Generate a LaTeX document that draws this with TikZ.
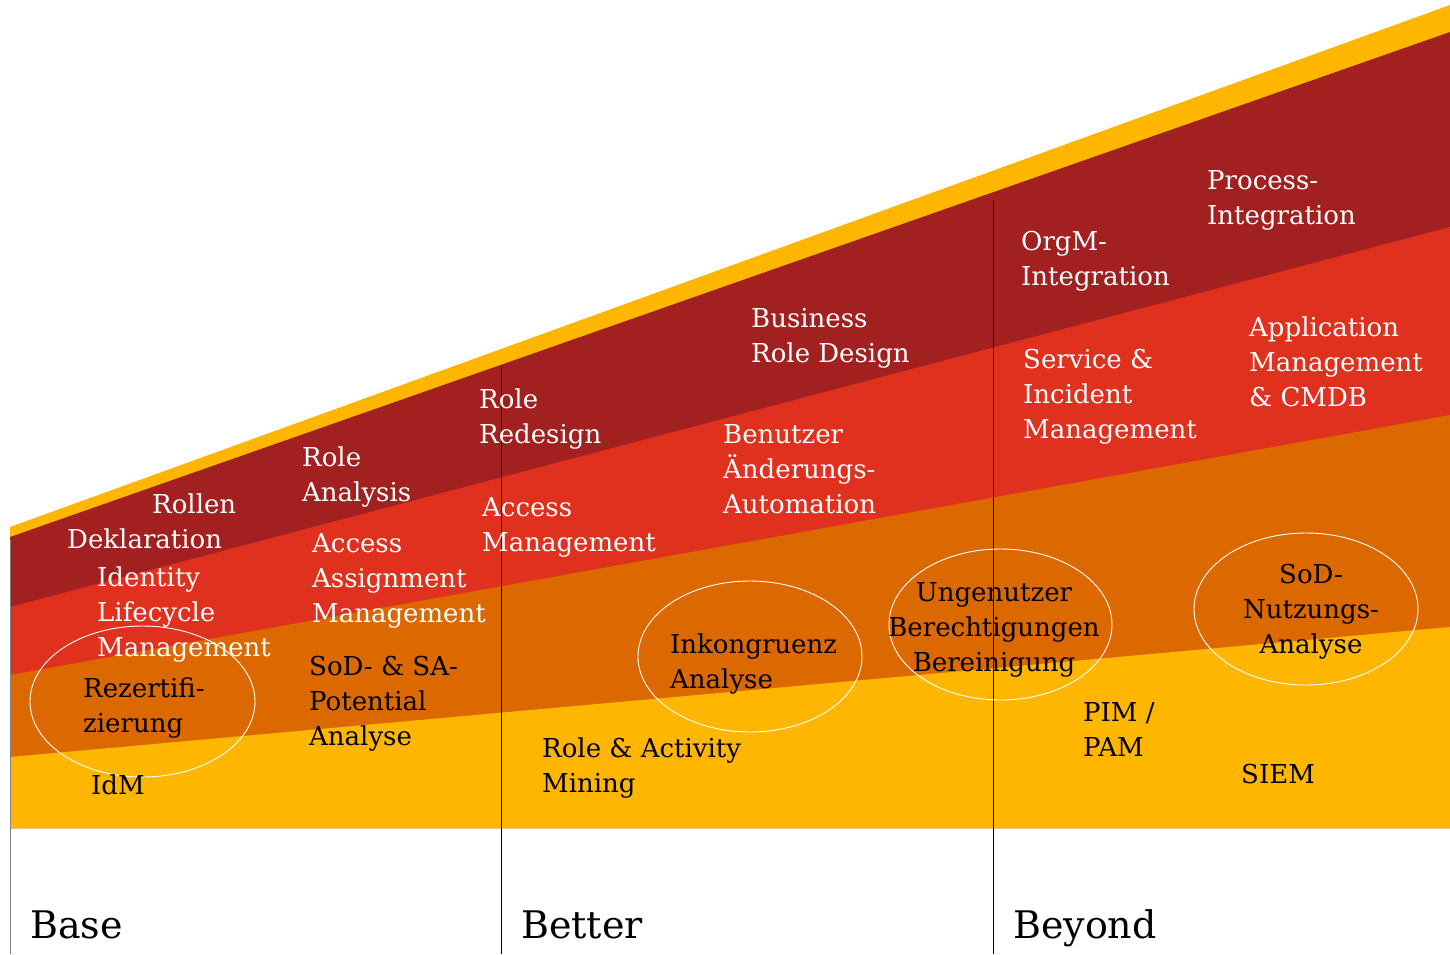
\documentclass[tikz,border=0pt]{standalone}
\usepackage{fontspec}
\setmainfont{DejaVu Serif}
\usepackage{tikz}

\definecolor{pwcYellow}{HTML}{FFB600}
\definecolor{pwcOrange}{HTML}{DC6900}
\definecolor{pwcRed}{HTML}{E0301E}
\definecolor{pwcDarkRed}{HTML}{A32020}

\tikzset{
    onred/.style={text=white, align=left, anchor=west, inner sep=0pt,
        font=\fontsize{26}{35}\selectfont},
    onyellow/.style={onred, text=black},
    phase/.style={anchor=base west, inner sep=0pt, font=\fontsize{38}{44}\selectfont},
    ring/.style={draw=white, line width=0.9pt},
    divider/.style={draw=black, line width=0.9pt}
}

\begin{document}
\begin{tikzpicture}[x=1pt, y=-1pt]
    \useasboundingbox (0,0) rectangle (1450,954);

    % bands, back to front
    \foreach \col/\lft/\rgt in {pwcYellow/527/5, pwcDarkRed/537/32, pwcRed/607/227,
                                pwcOrange/675/415, pwcYellow/757/627}
        \fill[\col] (10,\lft) -- (1450,\rgt) |- (11,828) -- cycle;

    \coordinate (baseTop) at (10,540);
    \coordinate (baseEnd) at (10,954);
    \coordinate (betterTop) at (501,366);
    \coordinate (betterEnd) at (501,954);
    \coordinate (beyondTop) at (993,200);
    \coordinate (beyondEnd) at (993,954);
    \draw[divider, draw=gray] (baseTop) -- (baseEnd);
    \draw[divider] (betterTop) -- (betterEnd);
    \draw[divider] (beyondTop) -- (beyondEnd);

    \draw[ring] (142.5,701.5) ellipse [x radius=112.5, y radius=75.5];
    \draw[ring] (750,656.5) ellipse [x radius=112, y radius=75.5];
    \draw[ring] (1000.5,624.5) ellipse [x radius=111.5, y radius=75.5];
    \draw[ring] (1306,609) ellipse [x radius=112, y radius=76];

    % white labels
    \node[onred] (rollen) at (152,504) {Rollen};
    \node[onred] (deklaration) at (67,539) {Deklaration};
    \node[onred] (lifecycle) at (97,614) {Identity\\Lifecycle\\Management};
    \node[onred] (roleAnalysis) at (302,477) {Role\\Analysis};
    \node[onred] (assignment) at (312,581) {Access\\Assignment\\Management};
    \node[onred] (redesign) at (479,419) {Role\\Redesign};
    \node[onred] (accessMgmt) at (482,527) {Access\\Management};
    \node[onred] (businessRole) at (751,338.5) {Business\\Role Design};
    \node[onred] (benutzer) at (723,469.5) {Benutzer\\Änderungs-\\Automation};
    \node[onred] (orgm) at (1021,261) {OrgM-\\Integration};
    \node[onred] (process) at (1207,200.5) {Process-\\Integration};
    \node[onred] (service) at (1023,397) {Service \&\\Incident\\Management};
    \node[onred] (application) at (1249,361.5) {Application\\Management\\\& CMDB};

    % black labels
    \node[onyellow] (rezert) at (83,708) {Rezertifi-\\zierung};
    \node[onyellow] (idm) at (91,785) {IdM};
    \node[onyellow] (sodSA) at (309,703.5) {SoD- \& SA-\\Potential\\Analyse};
    \node[onyellow] (inkongruenz) at (670,663.5) {Inkongruenz\\Analyse};
    \node[onyellow] (mining) at (542,768) {Role \& Activity\\Mining};
    \node[onyellow, align=center, anchor=center] (ungenutzt) at (994,629.5)
        {Ungenutzer\\Berechtigungen\\Bereinigung};
    \node[onyellow, align=center, anchor=center] (sodNutzung) at (1311,612)
        {SoD-\\Nutzungs-\\Analyse};
    \node[onyellow] (pim) at (1083,729.5) {PIM /\\PAM};
    \node[onyellow] (siem) at (1241,774) {SIEM};

    % phases
    \node[phase] (base) at (30,938) {Base};
    \node[phase] (better) at (521,938) {Better};
    \node[phase] (beyond) at (1013,938) {Beyond};
\end{tikzpicture}
\end{document}
